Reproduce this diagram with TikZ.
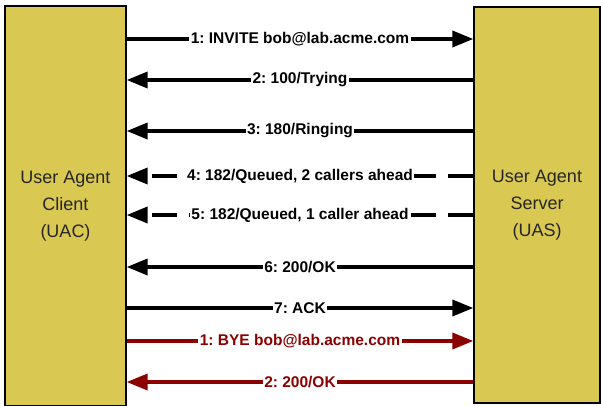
\documentclass[tikz,border=0pt]{standalone}
\usepackage{fontspec}
\setmainfont{Liberation Sans}
\usetikzlibrary{arrows.meta, positioning}

\definecolor{agentfill}{HTML}{D9C852}
\definecolor{byered}{HTML}{8B0000}

\begin{document}
\begin{tikzpicture}[x=1pt, y=-1pt,
    agent/.style={rectangle, draw=black, line width=1.3pt, fill=agentfill, inner sep=0pt, font=\fontsize{18}{27}\selectfont, align=center, text=black!85},
    msg/.style={line width=3.6pt, -{Triangle[length=21pt,width=16pt]}},
    queued/.style={msg, dash pattern=on 25pt off 12pt},
    bye/.style={msg, draw=byered},
    lbl/.style={fill=white, inner sep=1.5pt, font=\frenchspacing\bfseries\fontsize{15.5}{17}\selectfont},
]
    \useasboundingbox (0,0) rectangle (601,406);

    % --- the two agents ---
    \node[agent, minimum width=121pt, minimum height=400pt] (uac) at (65.5,206) {User Agent\\Client\\(UAC)};
    \node[agent, minimum width=126pt, minimum height=396pt] (uas) at (537,205) {User Agent\\Server\\(UAS)};

    % --- call setup ---
    \draw[msg] (uac.east |- 0,39)  -- node[lbl] {1: INVITE bob@lab.acme.com} (uas.west |- 0,39);
    \draw[msg] (uas.west |- 0,80)  -- node[lbl] {2: 100/Trying} (uac.east |- 0,80);
    \draw[msg] (uas.west |- 0,131) -- node[lbl] {3: 180/Ringing} (uac.east |- 0,131);
    \draw[queued] (uas.west |- 0,176) -- node[lbl] {4: 182/Queued, 2 callers ahead} (uac.east |- 0,176);
    \draw[queued] (uas.west |- 0,215) -- node[lbl] {5: 182/Queued, 1 caller ahead} (uac.east |- 0,215);
    \draw[msg] (uas.west |- 0,267) -- node[lbl] {6: 200/OK} (uac.east |- 0,267);
    \draw[msg] (uac.east |- 0,308) -- node[lbl] {7: ACK} (uas.west |- 0,308);

    % --- teardown ---
    \draw[bye] (uac.east |- 0,341) -- node[lbl, text=byered] {1: BYE bob@lab.acme.com} (uas.west |- 0,341);
    \draw[bye] (uas.west |- 0,382) -- node[lbl, text=byered] {2: 200/OK} (uac.east |- 0,382);

\end{tikzpicture}
\end{document}
